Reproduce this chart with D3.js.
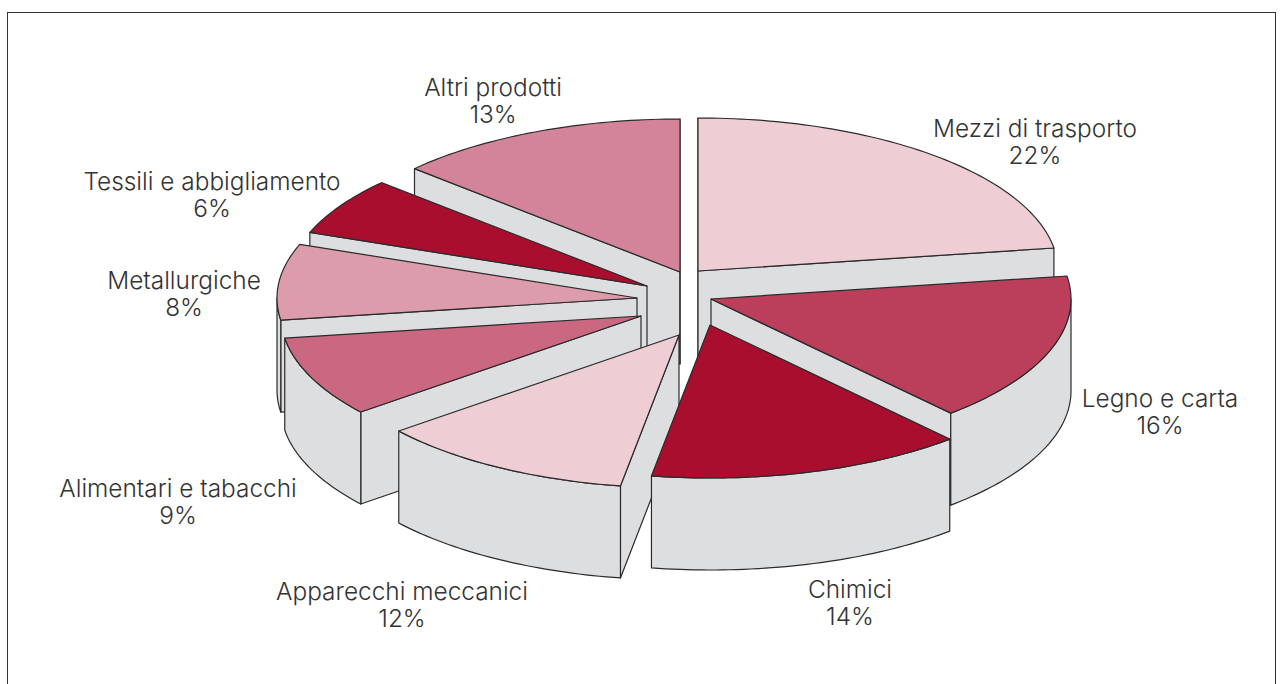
<!DOCTYPE html>
<html>
<head>
<meta charset="utf-8">
<title>Settori</title>
<script src="https://cdn.jsdelivr.net/npm/d3@7/dist/d3.min.js"></script>
<style>
html, body { margin: 0; padding: 0; background: #fff; overflow: hidden; }
svg { display: block; }
text { font-family: Inter, "Liberation Sans", sans-serif; font-weight: 300; font-size: 24.4px; fill: #333; }
</style>
</head>
<body>
<script>
var categories = ['Mezzi di trasporto', 'Legno e carta', 'Chimici', 'Apparecchi meccanici',
                  'Alimentari e tabacchi', 'Metallurgiche', 'Tessili e abbigliamento', 'Altri prodotti'];
// slice sizes as measured on the picture, the printed labels are rounded differently
var values = [22.6, 15.8, 14.2, 11.6, 8.5, 8.0, 6.1, 13.2];
var percentLabels = ['22%', '16%', '14%', '12%', '9%', '8%', '6%', '13%'];

var w = 1283, h = 684;
var cx = 680, cy = 303, rx = 360, ry = 153, depth = 92;

// styling and placement of each slice, same order as categories
var colors = ['#eecdd5', '#bb3e5b', '#a90e2f', '#eecdd5', '#c96880', '#dd9cac', '#a90e2f', '#d4849a'];
var nudge = [[18, -32], [31, -4], [30, 22], [-1, 32], [-39, 13], [-43, -5], [-33, -17], [0, -31]];
var labelPos = [[1035, 137], [1160, 407], [850, 598], [402, 600], [178, 497], [184, 289], [212, 190], [493, 96]];
// painter's order, back to front
var drawOrder = [7, 0, 6, 5, 4, 3, 1, 2];

var x = d3.scaleLinear().domain([-1, 1]).range([-rx, rx]);
var y = d3.scaleLinear().domain([-1, 1]).range([-ry, ry]);

var pie = d3.pie().sort(null).value(function(d) { return d; });
var slices = pie(values);

var svg = d3.select('body').append('svg').attr('width', w).attr('height', h);

svg.append('rect')
  .attr('x', 7.5).attr('y', 12.5)
  .attr('width', 1268).attr('height', 700)
  .attr('fill', 'none').attr('stroke', '#333').attr('stroke-width', 1);

var line = d3.line();

function rimPoint(a, dz) {
  return [x(Math.sin(a)), y(-Math.cos(a)) + dz];
}

function arcPoints(a0, a1, dz) {
  var n = Math.max(2, Math.ceil((a1 - a0) / 0.02));
  return d3.range(n + 1).map(function(i) {
    return rimPoint(a0 + (a1 - a0) * i / n, dz);
  });
}

function edgeWall(a) {
  return line([[0, 0], rimPoint(a, 0), rimPoint(a, depth), [0, depth]]) + 'Z';
}

var eps = 1e-6;

var groups = svg.selectAll('g.slice')
  .data(drawOrder)
  .enter()
  .append('g')
  .attr('class', 'slice')
  .attr('transform', function(i) {
    return 'translate(' + (cx + nudge[i][0]) + ',' + (cy + nudge[i][1]) + ')';
  });

groups.each(function(i) {
  var g = d3.select(this), s = slices[i];
  var walls = [];
  if (Math.sin(s.startAngle) <= eps) walls.push(edgeWall(s.startAngle));
  if (Math.sin(s.endAngle) >= -eps) walls.push(edgeWall(s.endAngle));
  // outer rim only where it faces the viewer
  var a0 = Math.max(s.startAngle, Math.PI / 2), a1 = Math.min(s.endAngle, 3 * Math.PI / 2);
  if (a1 > a0) {
    walls.push(line(arcPoints(a0, a1, 0).concat(arcPoints(a0, a1, depth).reverse())) + 'Z');
  }
  walls.forEach(function(d) {
    g.append('path').attr('d', d)
      .attr('fill', '#dcdee0').attr('stroke', '#2b2b2b').attr('stroke-width', 1.2)
      .attr('stroke-linejoin', 'round');
  });
  g.append('path')
    .attr('d', line([[0, 0]].concat(arcPoints(s.startAngle, s.endAngle, 0))) + 'Z')
    .attr('fill', colors[i]).attr('stroke', '#2b2b2b').attr('stroke-width', 1.2)
    .attr('stroke-linejoin', 'round');
});

var labels = svg.selectAll('text.label')
  .data(categories)
  .enter()
  .append('text')
  .attr('class', 'label')
  .attr('text-anchor', 'middle')
  .attr('transform', function(d, i) {
    return 'translate(' + labelPos[i][0] + ',' + labelPos[i][1] + ')';
  });
labels.append('tspan').attr('x', 0).attr('y', 0).text(function(d) { return d; });
labels.append('tspan').attr('x', 0).attr('y', 27).text(function(d, i) { return percentLabels[i]; });
</script>
</body>
</html>
